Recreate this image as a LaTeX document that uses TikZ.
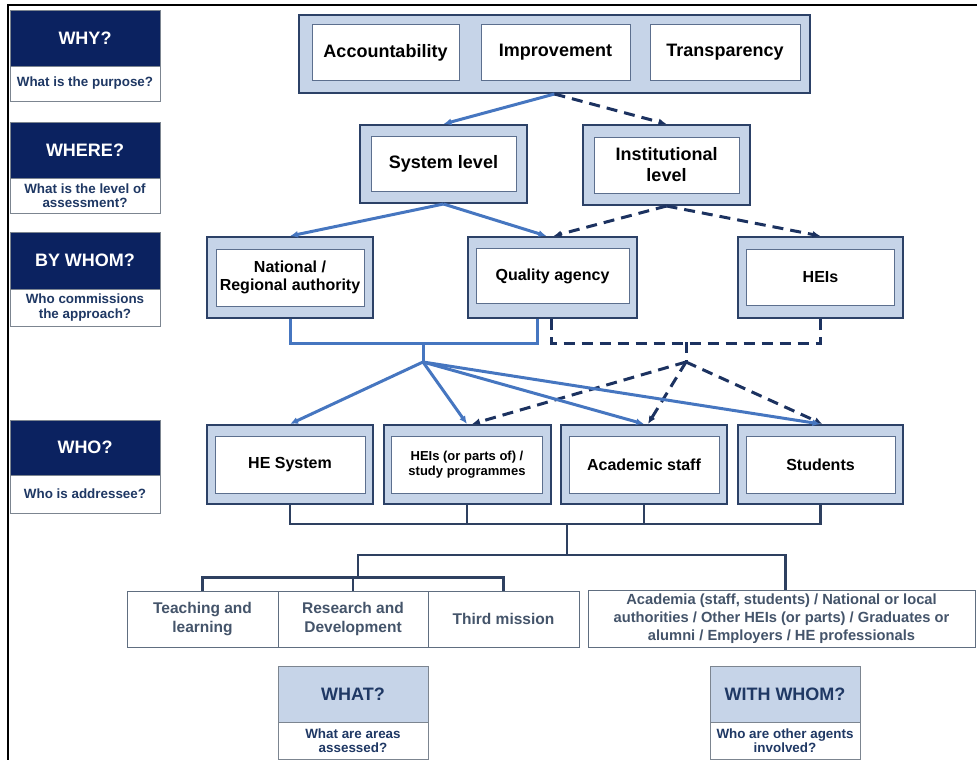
\documentclass[tikz,border=0pt]{standalone}
\usepackage{fontspec}
\setmainfont{Liberation Sans}
\usetikzlibrary{arrows.meta,calc}
\definecolor{navy}{HTML}{0B2260}
\definecolor{boxfill}{HTML}{C6D4E8}
\definecolor{boxedge}{HTML}{2C4167}
\definecolor{inneredge}{HTML}{5C6F8E}
\definecolor{solidblue}{HTML}{4676C0}
\definecolor{dashnavy}{HTML}{1C3260}
\definecolor{busline}{HTML}{2E4060}
\definecolor{slate}{HTML}{44546A}
\definecolor{qtext}{HTML}{1F3864}
\definecolor{labeledge}{HTML}{7C8590}

\begin{document}
\begin{tikzpicture}[x=1pt,y=-1pt,
  outerbox/.style={draw=boxedge, fill=boxfill, line width=2pt, inner sep=0pt},
  innerbox/.style={draw=inneredge, fill=white, line width=1pt, inner sep=0pt,
    align=center, text=black, font=\bfseries\fontsize{16}{18.5}\selectfont},
  bigtext/.style={font=\bfseries\fontsize{18}{21}\selectfont},
  headbox/.style={draw=labeledge, fill=navy, line width=0.8pt, inner sep=0pt,
    text=white, minimum width=150pt, font=\bfseries\fontsize{18}{20}\selectfont},
  subbox/.style={draw=labeledge, fill=white, line width=0.8pt, inner sep=0pt,
    minimum width=150pt, text=qtext, align=center,
    font=\bfseries\fontsize{13.4}{14.5}\selectfont},
  lighthead/.style={headbox, fill=boxfill, text=qtext},
  areabox/.style={draw=slate!85, fill=white, line width=1pt, inner sep=0pt,
    text=slate, align=center, minimum height=56pt,
    font=\bfseries\fontsize{15.5}{18.5}\selectfont},
  solidarrow/.style={draw=solidblue, line width=3pt, -{Latex[length=8pt,width=7pt]}},
  dasharrow/.style={draw=dashnavy, line width=3pt, dash pattern=on 11pt off 7pt,
    -{Latex[length=8pt,width=7pt]}},
  solidbus/.style={draw=solidblue, line width=3pt},
  dashbus/.style={draw=dashnavy, line width=3pt, dash pattern=on 11pt off 7pt},
  tree/.style={draw=busline, line width=2.2pt}]

\useasboundingbox (0,0) rectangle (977,760);

% page frame
\draw[black, line width=2.5pt] (8,760) -- (8,5) -- (977,5);

% question labels on the left
\node[headbox, minimum height=56pt] (whyh) at (85,38) {WHY?};
\node[subbox, minimum height=35pt] (whys) at (85,83.5) {What is the purpose?};
\node[headbox, minimum height=56pt] (whereh) at (85,150) {WHERE?};
\node[subbox, minimum height=35pt] (wheres) at (85,195.5) {What is the level of\\assessment?};
\node[headbox, minimum height=57pt] (byh) at (85,260.5) {BY WHOM?};
\node[subbox, minimum height=37pt] (bys) at (85,307.5) {Who commissions\\the approach?};
\node[headbox, minimum height=55pt] (whoh) at (85,447.5) {WHO?};
\node[subbox, minimum height=38pt] (whos) at (85,494) {Who is addressee?};

% purposes
\node[outerbox, minimum width=511pt, minimum height=78pt] (top) at (554.5,54) {};
\node[innerbox, bigtext, minimum width=147pt, minimum height=55pt] (acc) at (385.5,52.5) {Accountability};
\node[innerbox, bigtext, minimum width=149pt, minimum height=55pt] (imp) at (555.5,52.5) {Improvement};
\node[innerbox, bigtext, minimum width=150pt, minimum height=55pt] (tra) at (725,52.5) {Transparency};

% levels
\node[outerbox, minimum width=167pt, minimum height=78pt] (sys) at (443.5,164) {};
\node[innerbox, bigtext, minimum width=145pt, minimum height=55pt] (sysin) at (443.5,164) {System level};
\node[outerbox, minimum width=167pt, minimum height=80pt] (inst) at (666.5,165) {};
\node[innerbox, bigtext, minimum width=145pt, minimum height=56pt] (instin) at (666.5,165) {Institutional\\level};

% commissioners
\node[outerbox, minimum width=166pt, minimum height=81pt] (nat) at (290,277.5) {};
\node[innerbox, minimum width=148pt, minimum height=57pt] (natin) at (290,277.5) {National /\\Regional authority};
\node[outerbox, minimum width=169pt, minimum height=81pt] (qa) at (552.5,277.5) {};
\node[innerbox, minimum width=153pt, minimum height=55pt] (qain) at (552.5,276) {Quality agency};
\node[outerbox, minimum width=165pt, minimum height=81pt] (hei) at (820.5,277.5) {};
\node[innerbox, minimum width=148pt, minimum height=56pt] (heiin) at (820.5,277.5) {HEIs};

% addressees
\node[outerbox, minimum width=166pt, minimum height=79pt] (hes) at (290,464.5) {};
\node[innerbox, minimum width=150pt, minimum height=57pt] (hesin) at (290,464.5) {HE System};
\node[outerbox, minimum width=167pt, minimum height=79pt] (heip) at (467,464.5) {};
\node[innerbox, minimum width=151pt, minimum height=57pt, font=\bfseries\fontsize{13}{15.5}\selectfont] (heipin) at (467,464.5) {HEIs (or parts of) /\\study programmes};
\node[outerbox, minimum width=166pt, minimum height=79pt] (acad) at (644,464.5) {};
\node[innerbox, minimum width=150pt, minimum height=57pt] (acadin) at (644,464.5) {Academic staff};
\node[outerbox, minimum width=165pt, minimum height=79pt] (stud) at (820.5,464.5) {};
\node[innerbox, minimum width=149pt, minimum height=57pt] (studin) at (820.5,464.5) {Students};

% areas and agents
\node[areabox, minimum width=151pt] (teach) at (202.5,619) {Teaching and\\learning};
\node[areabox, minimum width=150pt] (research) at (353,619) {Research and\\Development};
\node[areabox, minimum width=151pt] (third) at (503.5,619) {Third mission};
\node[areabox, minimum width=387pt, minimum height=57pt, font=\bfseries\fontsize{14.7}{18}\selectfont] (agents) at (781.5,619)
  {Academia (staff, students) / National or local\\authorities / Other HEIs (or parts) / Graduates or\\alumni / Employers / HE professionals};

\node[lighthead, minimum height=56pt] (whath) at (353,694) {WHAT?};
\node[subbox, minimum height=37pt] (whats) at (353,740.5) {What are areas\\assessed?};
\node[lighthead, minimum height=56pt] (withh) at (785,694) {WITH WHOM?};
\node[subbox, minimum height=37pt] (withs) at (785,740.5) {Who are other agents\\involved?};

% purpose to level
\draw[solidarrow] (top.south) -- (sys.north);
\draw[dasharrow] (top.south) -- (inst.north);

% level to commissioner
\draw[dasharrow] (inst.south) -- ($(qa.north)+(1,0)$);
\draw[dasharrow] (inst.south) -- (hei.north);
\draw[solidarrow] (sys.south) -- (nat.north);
\draw[solidarrow] (sys.south) -- ($(qa.north)+(-6,0)$);

% commissioner buses and branch points
\coordinate (sjoin) at (423,342);
\coordinate (sbranch) at (423,362);
\coordinate (djoin) at (686,342);
\coordinate (dbranch) at (686,362);
\draw[solidbus] (nat.south) -- ++(0,24) -| ($(qa.south)+(-15,0)$);
\draw[solidbus] (sjoin) -- (sbranch);
\draw[dashbus] ($(qa.south)+(-1,0)$) -- ++(0,24) -| (hei.south);
\draw[dashbus] (djoin) -- (dbranch);

% commissioner to addressee
\draw[dasharrow] (dbranch) -- ($(heip.north)+(5,0)$);
\draw[dasharrow] (dbranch) -- ($(acad.north)+(4,0)$);
\draw[dasharrow] (dbranch) -- ($(stud.north)+(2,0)$);
\draw[solidarrow] (sbranch) -- (hes.north);
\draw[solidarrow] (sbranch) -- (heip.north);
\draw[solidarrow] (sbranch) -- (acad.north);
\draw[solidarrow] (sbranch) -- (stud.north);

% addressees to areas and agents
\coordinate (t1) at (567,523);
\coordinate (t2) at (567,555);
\coordinate (t3) at (358,555);
\coordinate (t4) at (358,578);
\draw[tree] (hes.south) -- ++(0,19) -| (stud.south);
\draw[tree] (heip.south) -- ++(0,19);
\draw[tree] (acad.south) -- ++(0,19);
\draw[tree] (t1) -- (t2);
\draw[tree] (t4) -- (t3) -| ($(agents.north)+(4,0)$);
\draw[tree] (teach.north) -- ++(0,-13) -| (third.north);
\draw[tree] (research.north) -- ++(0,-13);
\end{tikzpicture}
\end{document}
